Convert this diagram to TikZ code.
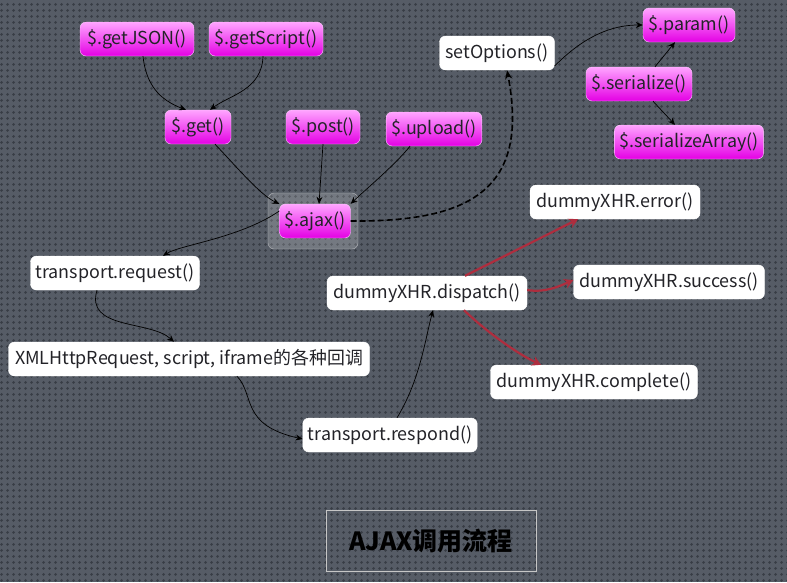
\documentclass[tikz,border=0pt]{standalone}
\usepackage{fontspec}
\setmainfont{Noto Sans CJK SC}
\usetikzlibrary{arrows.meta,patterns.meta}
\definecolor{bgcol}{RGB}{86,92,102}
\definecolor{holecol}{RGB}{56,61,69}
\definecolor{pinktop}{RGB}{255,165,255}
\definecolor{pinkbot}{RGB}{228,0,228}
\definecolor{redline}{RGB}{175,45,62}
\definecolor{txt}{RGB}{35,35,40}
\tikzdeclarepattern{name=perf,type=uncolored,bottom left={(0pt,0pt)},top right={(6pt,6pt)},tile size={(6pt,6pt)},code={\fill (3pt,3pt) circle (1.7pt);}}
\tikzset{
  base/.style={rounded corners=6pt,minimum height=34pt,inner xsep=5pt,font=\fontsize{17.9}{19}\selectfont,text=txt,anchor=center},
  pinkbox/.style={base,top color=pinktop,bottom color=pinkbot,draw=pinktop!60!white,line width=0.4pt},
  whitebox/.style={base,fill=white,draw=white},
  arr/.style={-{Stealth[length=7pt,width=6pt]},line width=0.7pt,black},
  redarr/.style={-{Stealth[length=9pt,width=10pt]},line width=2.2pt,redline},
  dasharr/.style={-{Stealth[length=9pt,width=7pt]},line width=1.6pt,black,dash pattern=on 6pt off 3pt},
}
\begin{document}
\begin{tikzpicture}[x=1pt,y=-1pt]
\useasboundingbox (0,0) rectangle (787,582);
\fill[bgcol] (0,0) rectangle (787,582);
\fill[pattern=perf,pattern color=holecol] (0,0) rectangle (787,582);
% ajax frame
\fill[white,fill opacity=0.18,draw=white!80!gray,draw opacity=0.6,rounded corners=6pt] (268,193) rectangle (358,249);
% nodes
\node[pinkbox,minimum width=114pt] (getjson) at (137,39) {\$.getJSON()};
\node[pinkbox,minimum width=114pt] (getscript) at (266,39) {\$.getScript()};
\node[pinkbox,minimum width=66pt] (get) at (198,127) {\$.get()};
\node[pinkbox,minimum width=74pt] (post) at (323,127) {\$.post()};
\node[pinkbox,minimum width=95pt] (upload) at (434,129) {\$.upload()};
\node[pinkbox,minimum width=70pt] (ajax) at (315,221) {\$.ajax()};
\node[whitebox,minimum width=115pt] (setopt) at (497,53) {setOptions()};
\node[pinkbox,minimum width=92pt] (param) at (689,25) {\$.param()};
\node[pinkbox,minimum width=106pt] (serialize) at (639,84) {\$.serialize()};
\node[pinkbox,minimum width=148pt] (serarr) at (689,142) {\$.serializeArray()};
\node[whitebox,minimum width=170pt] (error) at (615,202) {dummyXHR.error()};
\node[whitebox,minimum width=169pt] (request) at (115,273) {transport.request()};
\node[whitebox,minimum width=200pt] (dispatch) at (427,293) {dummyXHR.dispatch()};
\node[whitebox,minimum width=191pt] (success) at (669,282) {dummyXHR.success()};
\node[whitebox,minimum width=361pt] (xml) at (189,359) {XMLHttpRequest, script, iframe的各种回调};
\node[whitebox,minimum width=207pt] (complete) at (594,382) {dummyXHR.complete()};
\node[whitebox,minimum width=173pt] (respond) at (390,435) {transport.respond()};
\node[draw=white!55!gray,line width=0.6pt,minimum width=210pt,minimum height=61pt,font=\fontsize{25}{28}\bfseries\selectfont,text=black] (title) at (431,541) {AJAX调用流程};
% connectors
\draw[arr] ([xshift=6pt]getjson.south) .. controls (146,85) and (160,100) .. ([xshift=-12pt]get.north);
\draw[arr] ([xshift=-3pt]getscript.south) .. controls (262,90) and (230,95) .. ([xshift=12pt]get.north);
\draw[arr] ([xshift=17pt]get.south) .. controls (235,165) and (260,195) .. (ajax.north west);
\draw[arr] (post.south) -- ([xshift=4pt]ajax.north);
\draw[arr] ([xshift=-24pt]upload.south) .. controls (395,165) and (365,190) .. (ajax.north east);
\draw[arr] ([yshift=10pt]ajax.west) .. controls (240,238) and (180,245) .. ([xshift=48pt]request.north);
\draw[dasharr] (ajax.east) .. controls (470,222) and (530,190) .. ([xshift=10pt]setopt.south);
\draw[arr] ([yshift=-13pt]setopt.east) .. controls (590,30) and (620,25) .. (param.west);
\draw[arr] ([xshift=16pt]serialize.north) -- ([xshift=-14pt]param.south);
\draw[arr] ([xshift=14pt]serialize.south) -- ([xshift=-14pt]serarr.north);
\draw[arr] ([xshift=-18pt]request.south) .. controls (85,330) and (150,320) .. ([xshift=-15pt]xml.north);
\draw[arr] ([xshift=48pt]xml.south) .. controls (255,395) and (240,425) .. ([yshift=-4pt]respond.west);
\draw[arr] ([xshift=7pt]respond.north) .. controls (420,380) and (425,340) .. ([xshift=6pt]dispatch.south);
\draw[redarr] ([xshift=38pt]dispatch.north) -- ([xshift=-37pt]error.south);
\draw[redarr] ([yshift=3pt]dispatch.east) .. controls (545,293) and (560,286) .. ([yshift=2pt]success.west);
\draw[redarr] ([xshift=37pt]dispatch.south) .. controls (490,335) and (520,355) .. ([xshift=-53pt]complete.north);
\end{tikzpicture}
\end{document}
